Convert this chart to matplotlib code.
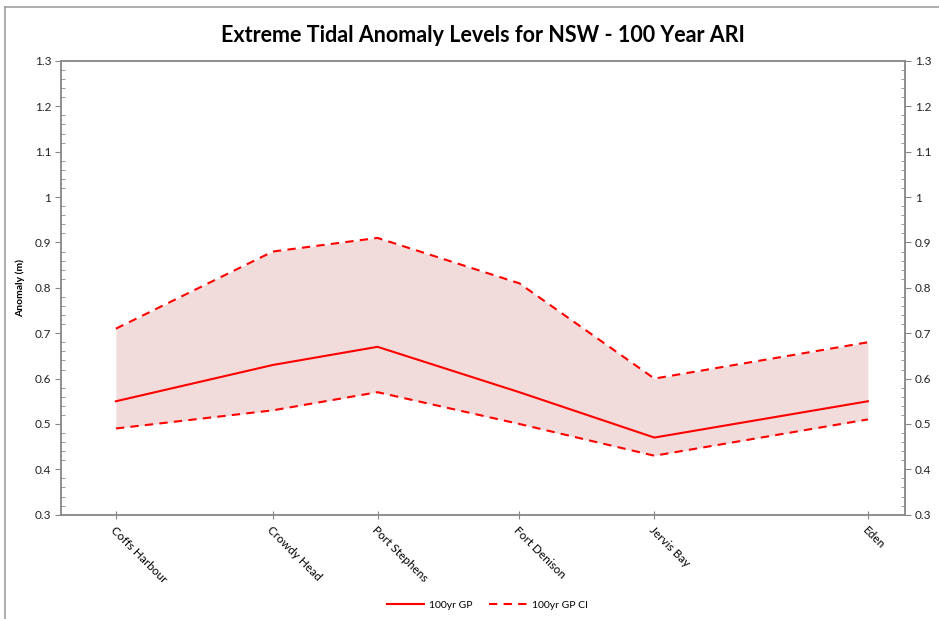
import matplotlib.pyplot as plt
from matplotlib.ticker import MultipleLocator
from matplotlib.lines import Line2D

# stations along the NSW coast, north to south
stations = ['Coffs Harbour', 'Crowdy Head', 'Port Stephens', 'Fort Denison', 'Jervis Bay', 'Eden']
# relative position along the coast (0 = left edge, 1 = right edge of axis)
station_x = [0.065, 0.251, 0.375, 0.543, 0.703, 0.956]

gp_100 = [0.55, 0.63, 0.67, 0.57, 0.47, 0.55]
ci_upper = [0.71, 0.88, 0.91, 0.81, 0.60, 0.68]
ci_lower = [0.49, 0.53, 0.57, 0.50, 0.43, 0.51]

plt.rcParams['font.family'] = ['Lato', 'DejaVu Sans']

fig = plt.figure(figsize=(9.39, 6.19), dpi=100)
ax = fig.add_axes([0.065, 0.1685, 0.8988, 0.733])

red = '#FF0000'
ax.fill_between(station_x, ci_lower, ci_upper, color='#F2DCDB', lw=0)
ax.plot(station_x, gp_100, color=red, lw=1.5, label='100yr GP')
ax.plot(station_x, ci_upper, color=red, lw=1.5, ls=(0, (4, 3)), label='100yr GP CI')
ax.plot(station_x, ci_lower, color=red, lw=1.5, ls=(0, (4, 3)))

ax.set_xlim(0, 1)
ax.set_ylim(0.3, 1.3)
ax.yaxis.set_major_locator(MultipleLocator(0.1))
ax.yaxis.set_minor_locator(MultipleLocator(0.02))
ax.yaxis.set_major_formatter(lambda v, p: f'{v:g}')

axis_gray = '#868686'
for s in ax.spines.values():
    s.set_color(axis_gray)
    s.set_linewidth(1.3)

ax.tick_params(axis='y', which='major', direction='out', length=4, color=axis_gray,
               labelsize=8.5, labelcolor='#222222', left=True, right=True,
               labelleft=True, labelright=True, pad=3)
ax.tick_params(axis='y', which='minor', direction='in', length=3, color=axis_gray,
               left=True, right=True)

ax.set_xticks(station_x)
ax.set_xticklabels(stations, rotation=-45, ha='left', va='top',
                   rotation_mode='anchor', fontsize=8.5)
ax.tick_params(axis='x', direction='inout', length=6, color=axis_gray, pad=4)

ax.set_ylabel('Anomaly (m)', fontsize=7.5, fontweight='bold', labelpad=7)
ax.set_title('Extreme Tidal Anomaly Levels for NSW - 100 Year ARI',
             fontsize=15.5, fontweight='bold', pad=14)

ax.legend(loc='upper center', bbox_to_anchor=(0.505, -0.168), ncol=2, frameon=False,
          fontsize=7.5, handlelength=3.6, handletextpad=0.5, columnspacing=1.6)

# chart border
fig.add_artist(Line2D([0.005, 1.0], [0.988, 0.988], color='#A0A0A0', lw=1.2))
fig.add_artist(Line2D([0.005, 0.005], [0.0, 0.988], color='#A0A0A0', lw=1.2))

fig.savefig('out.png', dpi=100)
